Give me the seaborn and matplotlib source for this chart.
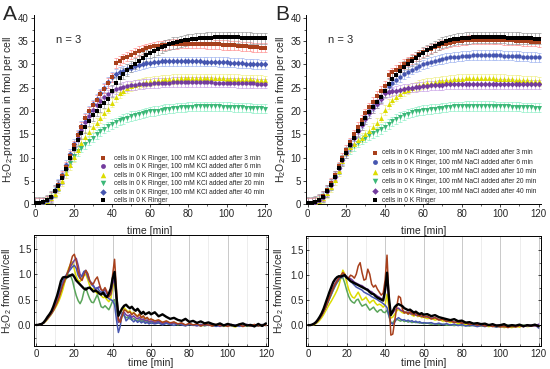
import numpy as np
import matplotlib
matplotlib.use('Agg')
import matplotlib.pyplot as plt
import seaborn as sns
from matplotlib.ticker import MultipleLocator, FormatStrFormatter

# sampling times (min)
t_cum = np.arange(0, 121, 2)
t_rate = np.concatenate([np.arange(0, 61), np.arange(62, 121, 2)])

# ---- panel A top: cumulative H2O2 (fmol/cell), KCl ----
a_ringer = [0.3, 0.3, 0.4, 0.8, 1.5, 2.8, 3.9, 5.5, 7.5, 9.8, 11.8, 13.7, 15.2, 16.5, 17.9, 19.1, 20.1, 21.0, 21.8, 22.6,
            24.3, 26.0, 27.1, 28.0, 28.8, 29.5, 30.2, 30.8, 31.4, 32.0, 32.5, 32.9, 33.3, 33.7, 34.0, 34.3, 34.6, 34.8, 35.0, 35.2,
            35.3, 35.4, 35.5, 35.6, 35.6, 35.7, 35.7, 35.8, 35.8, 35.8, 35.8, 35.8, 35.8, 35.8, 35.7, 35.7, 35.7, 35.6, 35.6, 35.6, 35.6]
a_kcl_3 = [0.3, 0.3, 0.4, 0.8, 1.6, 2.9, 4.2, 6.0, 8.0, 10.3, 12.6, 14.8, 16.6, 18.4, 19.9, 21.2, 22.4, 23.6, 24.8, 26.0,
           27.2, 30.3, 30.8, 31.3, 31.7, 32.1, 32.5, 32.9, 33.2, 33.5, 33.7, 33.9, 34.0, 34.1, 34.2, 34.3, 34.4, 34.4, 34.5, 34.5,
           34.5, 34.5, 34.5, 34.5, 34.5, 34.4, 34.4, 34.3, 34.3, 34.2, 34.2, 34.1, 34.1, 34.0, 33.9, 33.9, 33.8, 33.7, 33.7, 33.6, 33.6]
a_kcl_6 = [0.3, 0.3, 0.4, 0.8, 1.5, 2.8, 4.0, 5.8, 7.8, 10.0, 12.3, 14.3, 16.0, 17.6, 19.0, 20.2, 21.2, 22.1, 22.9, 23.6,
           24.3, 24.7, 25.0, 25.2, 25.4, 25.5, 25.6, 25.7, 25.8, 25.9, 25.9, 26.0, 26.0, 26.1, 26.1, 26.1, 26.2, 26.2, 26.2, 26.2,
           26.2, 26.2, 26.2, 26.2, 26.2, 26.2, 26.2, 26.1, 26.1, 26.1, 26.1, 26.1, 26.1, 26.0, 26.0, 26.0, 26.0, 26.0, 25.9, 25.9, 25.9]
a_kcl_10 = [0.3, 0.3, 0.4, 0.6, 1.2, 2.2, 3.4, 4.9, 6.6, 8.4, 10.1, 11.7, 13.1, 14.4, 15.5, 16.5, 17.5, 18.5, 19.5, 20.5,
            21.8, 23.0, 23.8, 24.4, 24.9, 25.3, 25.6, 25.9, 26.1, 26.3, 26.4, 26.5, 26.6, 26.7, 26.8, 26.8, 26.9, 26.9, 27.0, 27.0,
            27.0, 27.0, 27.0, 27.0, 27.0, 27.0, 27.0, 27.0, 27.0, 27.0, 26.9, 26.9, 26.9, 26.9, 26.8, 26.8, 26.8, 26.7, 26.7, 26.7, 26.6]
a_kcl_20 = [0.3, 0.3, 0.4, 0.7, 1.4, 2.6, 3.9, 5.5, 7.2, 8.9, 10.3, 11.3, 12.1, 12.9, 13.6, 14.3, 15.0, 15.6, 16.2, 16.7,
            17.2, 17.6, 18.0, 18.3, 18.6, 18.9, 19.1, 19.3, 19.5, 19.7, 19.9, 20.0, 20.1, 20.3, 20.4, 20.5, 20.6, 20.7, 20.8, 20.8,
            20.9, 20.9, 21.0, 21.0, 21.0, 21.0, 21.0, 21.0, 21.0, 20.9, 20.9, 20.9, 20.8, 20.8, 20.8, 20.7, 20.7, 20.6, 20.6, 20.6, 20.5]
a_kcl_40 = [0.3, 0.3, 0.4, 0.8, 1.6, 3.0, 4.4, 6.3, 8.5, 10.8, 13.0, 15.0, 16.8, 18.5, 20.0, 21.4, 22.6, 23.8, 25.0, 26.3,
            27.4, 28.0, 28.4, 28.7, 29.0, 29.3, 29.6, 29.9, 30.1, 30.3, 30.4, 30.5, 30.6, 30.7, 30.7, 30.7, 30.7, 30.7, 30.7, 30.7,
            30.7, 30.7, 30.7, 30.7, 30.6, 30.6, 30.6, 30.6, 30.5, 30.5, 30.5, 30.4, 30.4, 30.3, 30.3, 30.2, 30.2, 30.1, 30.1, 30.0, 30.0]

# ---- panel B top: cumulative H2O2 (fmol/cell), NaCl ----
b_ringer = [0.3, 0.3, 0.5, 0.9, 1.6, 2.8, 4.2, 5.9, 7.7, 9.4, 11.0, 12.6, 14.2, 15.7, 17.2, 18.5, 19.7, 20.8, 21.9, 23.0,
            24.3, 25.8, 26.9, 27.8, 28.7, 29.5, 30.2, 30.8, 31.4, 32.0, 32.5, 33.0, 33.5, 33.9, 34.3, 34.7, 35.0, 35.2, 35.4, 35.5,
            35.6, 35.7, 35.7, 35.8, 35.8, 35.8, 35.8, 35.8, 35.8, 35.8, 35.8, 35.8, 35.7, 35.7, 35.7, 35.7, 35.6, 35.6, 35.6, 35.5, 35.5]
b_nacl_3 = [0.3, 0.3, 0.5, 0.9, 1.7, 3.0, 4.5, 6.2, 8.1, 9.9, 11.6, 13.3, 15.0, 16.6, 18.1, 19.5, 20.8, 22.0, 23.2, 24.3,
            25.4, 27.8, 28.3, 28.9, 29.5, 30.1, 30.7, 31.2, 31.7, 32.2, 32.6, 33.0, 33.4, 33.7, 34.0, 34.3, 34.5, 34.7, 34.9, 35.0,
            35.1, 35.2, 35.3, 35.3, 35.3, 35.3, 35.3, 35.3, 35.3, 35.3, 35.3, 35.2, 35.2, 35.2, 35.1, 35.1, 35.0, 35.0, 34.9, 34.9, 34.8]
b_nacl_6 = [0.3, 0.3, 0.5, 0.9, 1.6, 2.9, 4.3, 6.0, 7.8, 9.6, 11.3, 12.9, 14.5, 16.0, 17.4, 18.7, 19.9, 21.0, 22.0, 23.0,
            24.0, 25.3, 26.0, 26.7, 27.3, 27.9, 28.4, 28.9, 29.3, 29.7, 30.0, 30.3, 30.6, 30.8, 31.0, 31.2, 31.4, 31.5, 31.6, 31.7,
            31.8, 31.9, 31.9, 32.0, 32.0, 32.0, 32.0, 32.0, 32.0, 32.0, 32.0, 31.9, 31.9, 31.9, 31.8, 31.8, 31.7, 31.7, 31.6, 31.6, 31.5]
b_nacl_10 = [0.3, 0.3, 0.4, 0.6, 1.2, 2.3, 3.6, 5.2, 7.0, 9.2, 11.0, 12.2, 13.0, 13.7, 14.3, 15.0, 15.7, 16.5, 17.4, 18.6,
             20.2, 21.5, 22.4, 23.1, 23.7, 24.2, 24.6, 25.0, 25.3, 25.6, 25.8, 26.0, 26.1, 26.3, 26.4, 26.5, 26.6, 26.7, 26.8, 26.9,
             26.9, 27.0, 27.0, 27.0, 27.0, 27.0, 27.0, 27.0, 27.0, 26.9, 26.9, 26.9, 26.8, 26.8, 26.7, 26.7, 26.6, 26.6, 26.5, 26.5, 26.4]
b_nacl_20 = [0.3, 0.3, 0.4, 0.7, 1.4, 2.6, 4.0, 5.7, 7.5, 9.3, 10.8, 11.8, 12.5, 13.2, 13.8, 14.3, 14.8, 15.2, 15.6, 16.1,
             16.6, 17.2, 17.8, 18.3, 18.7, 19.1, 19.4, 19.7, 19.9, 20.1, 20.2, 20.3, 20.4, 20.5, 20.6, 20.7, 20.8, 20.9, 21.0, 21.0,
             21.0, 21.1, 21.1, 21.1, 21.1, 21.1, 21.1, 21.1, 21.1, 21.0, 21.0, 21.0, 21.0, 20.9, 20.9, 20.9, 20.8, 20.8, 20.8, 20.7, 20.7]
b_nacl_40 = [0.3, 0.3, 0.5, 0.9, 1.6, 2.8, 4.2, 5.9, 7.7, 9.4, 11.0, 12.6, 14.1, 15.6, 17.0, 18.3, 19.5, 20.6, 21.6, 22.6,
             23.8, 24.0, 24.2, 24.4, 24.6, 24.8, 24.9, 25.0, 25.1, 25.2, 25.3, 25.4, 25.5, 25.5, 25.6, 25.6, 25.7, 25.7, 25.8, 25.8,
             25.8, 25.8, 25.8, 25.8, 25.8, 25.8, 25.8, 25.8, 25.8, 25.8, 25.8, 25.8, 25.8, 25.8, 25.7, 25.7, 25.7, 25.7, 25.7, 25.7, 25.7]

# ---- panel A bottom: rate (fmol/min/cell) ----
ra_ringer = [0.0, 0.0, 0.01, 0.02, 0.05, 0.10, 0.16, 0.21, 0.27, 0.36, 0.47, 0.58, 0.72, 0.87, 0.94, 0.95, 0.94, 0.96, 0.98, 1.0,
             0.95, 0.88, 0.84, 0.80, 0.76, 0.72, 0.70, 0.73, 0.74, 0.70, 0.66, 0.68, 0.66, 0.62, 0.60, 0.64, 0.58, 0.55, 0.62, 0.72,
             0.92, 1.05, 0.55, 0.18, 0.26, 0.33, 0.38, 0.40, 0.36, 0.33, 0.36, 0.31, 0.28, 0.32, 0.27, 0.22, 0.26, 0.21, 0.23, 0.25, 0.21,
             0.25, 0.17, 0.21, 0.16, 0.12, 0.14, 0.10, 0.08, 0.12, 0.06, 0.08, 0.04, 0.07, 0.03, 0.05, 0.02, 0.0, 0.03, -0.01, 0.02,
             0.0, -0.02, 0.01, 0.03, -0.01, 0.0, -0.03, 0.02, -0.02, 0.03]
ra_kcl_3 = [0.0, 0.0, 0.01, 0.02, 0.04, 0.08, 0.13, 0.18, 0.23, 0.29, 0.36, 0.44, 0.54, 0.66, 0.78, 0.88, 0.98, 1.08, 1.22, 1.36,
            1.40, 1.26, 1.06, 0.93, 0.88, 0.98, 1.08, 1.02, 0.88, 0.80, 0.82, 0.90, 0.95, 0.82, 0.70, 0.68, 0.74, 0.66, 0.55, 0.62,
            1.00, 1.30, 0.70, 0.10, 0.05, 0.18, 0.30, 0.28, 0.24, 0.26, 0.20, 0.24, 0.20, 0.16, 0.22, 0.14, 0.18, 0.12, 0.15, 0.10, 0.12,
            0.08, 0.10, 0.05, 0.08, 0.04, 0.06, 0.02, 0.04, 0.0, 0.03, 0.0, 0.02, -0.02, 0.01, 0.0, -0.02, 0.01, -0.01, 0.0, -0.03,
            0.0, -0.02, 0.01, -0.03, 0.0, -0.02, 0.01, -0.02, 0.0, -0.01]
ra_kcl_6 = [0.0, 0.0, 0.01, 0.02, 0.04, 0.08, 0.12, 0.17, 0.22, 0.28, 0.36, 0.46, 0.58, 0.70, 0.82, 0.92, 1.00, 1.08, 1.15, 1.22,
            1.28, 1.32, 1.18, 1.00, 0.96, 1.04, 1.06, 0.95, 0.86, 0.84, 0.78, 0.70, 0.72, 0.76, 0.70, 0.66, 0.70, 0.62, 0.58, 0.60,
            0.80, 0.95, 0.45, 0.05, 0.12, 0.22, 0.25, 0.20, 0.18, 0.20, 0.15, 0.18, 0.14, 0.12, 0.15, 0.10, 0.12, 0.08, 0.10, 0.06, 0.08,
            0.05, 0.07, 0.03, 0.05, 0.02, 0.04, 0.01, 0.03, -0.01, 0.02, 0.0, -0.02, 0.01, -0.01, 0.01, -0.02, 0.0, -0.03, 0.0, -0.02,
            0.01, -0.02, 0.0, -0.03, 0.01, -0.02, -0.01, 0.01, -0.02, 0.0]
ra_kcl_10 = [0.0, 0.0, 0.01, 0.02, 0.04, 0.07, 0.11, 0.16, 0.21, 0.27, 0.33, 0.40, 0.48, 0.58, 0.70, 0.85, 1.00, 1.12, 1.20, 1.25,
             1.10, 0.96, 0.88, 0.86, 0.92, 0.98, 1.00, 0.90, 0.78, 0.70, 0.72, 0.66, 0.62, 0.66, 0.58, 0.54, 0.55, 0.50, 0.46, 0.52,
             0.72, 0.88, 0.50, 0.20, 0.24, 0.30, 0.34, 0.30, 0.26, 0.28, 0.22, 0.25, 0.20, 0.18, 0.21, 0.15, 0.17, 0.12, 0.14, 0.10, 0.11,
             0.08, 0.09, 0.05, 0.07, 0.03, 0.05, 0.02, 0.03, -0.01, 0.02, 0.0, 0.01, -0.02, 0.0, 0.01, -0.02, 0.0, -0.01, -0.03, 0.0,
             -0.02, -0.04, -0.01, -0.03, 0.0, -0.02, -0.01, 0.0, -0.02, 0.01]
ra_kcl_20 = [0.0, 0.0, 0.01, 0.02, 0.04, 0.08, 0.12, 0.17, 0.22, 0.29, 0.37, 0.46, 0.56, 0.66, 0.76, 0.86, 0.94, 1.00, 0.98, 0.88,
             0.72, 0.58, 0.48, 0.42, 0.50, 0.66, 0.74, 0.62, 0.52, 0.45, 0.44, 0.52, 0.60, 0.48, 0.36, 0.34, 0.38, 0.34, 0.30, 0.38,
             0.48, 0.50, 0.30, 0.06, 0.10, 0.20, 0.18, 0.14, 0.16, 0.12, 0.10, 0.13, 0.09, 0.08, 0.11, 0.07, 0.09, 0.05, 0.07, 0.04, 0.06,
             0.04, 0.05, 0.02, 0.04, 0.01, 0.03, 0.0, 0.02, -0.01, 0.01, 0.0, -0.01, 0.01, -0.02, 0.0, -0.01, -0.02, 0.0, -0.02, -0.01,
             0.0, -0.02, -0.01, 0.0, -0.02, -0.01, 0.0, -0.02, 0.0, -0.01]
ra_kcl_40 = [0.0, 0.0, 0.01, 0.02, 0.05, 0.09, 0.14, 0.19, 0.25, 0.32, 0.41, 0.52, 0.64, 0.76, 0.86, 0.94, 1.00, 1.05, 1.10, 1.15,
             1.18, 1.12, 0.98, 0.92, 0.98, 1.06, 1.08, 1.00, 0.88, 0.80, 0.76, 0.72, 0.74, 0.68, 0.64, 0.68, 0.62, 0.56, 0.52, 0.50,
             0.48, 0.40, 0.10, -0.15, -0.02, 0.25, 0.20, 0.08, 0.12, 0.18, 0.10, 0.06, 0.10, 0.05, 0.08, 0.04, 0.07, 0.03, 0.05, 0.02, 0.04,
             0.02, 0.04, 0.0, 0.03, 0.01, -0.01, 0.02, 0.0, -0.02, 0.01, -0.01, 0.0, -0.02, 0.01, -0.01, 0.0, -0.03, 0.0, -0.02, 0.01,
             -0.02, 0.0, -0.03, -0.01, 0.01, -0.02, 0.0, -0.02, 0.01, -0.01]

# ---- panel B bottom: rate (fmol/min/cell) ----
rb_ringer = [0.0, 0.0, 0.01, 0.03, 0.06, 0.11, 0.17, 0.24, 0.33, 0.44, 0.55, 0.66, 0.76, 0.86, 0.92, 0.96, 0.98, 0.97, 0.99, 1.0,
             0.95, 0.92, 0.88, 0.86, 0.84, 0.82, 0.80, 0.78, 0.76, 0.74, 0.72, 0.70, 0.66, 0.63, 0.62, 0.58, 0.55, 0.53, 0.51, 0.49,
             0.70, 1.05, 0.55, 0.20, 0.28, 0.36, 0.40, 0.42, 0.40, 0.38, 0.34, 0.32, 0.30, 0.31, 0.28, 0.25, 0.27, 0.24, 0.22, 0.24, 0.21,
             0.22, 0.18, 0.20, 0.16, 0.14, 0.12, 0.10, 0.12, 0.08, 0.09, 0.05, 0.06, 0.03, 0.04, 0.02, 0.03, 0.0, 0.02, -0.01, 0.0,
             0.02, -0.02, 0.0, -0.01, 0.01, -0.02, 0.0, -0.01, 0.01, -0.02]
rb_nacl_3 = [0.0, 0.0, 0.01, 0.02, 0.05, 0.09, 0.14, 0.20, 0.27, 0.35, 0.45, 0.55, 0.65, 0.74, 0.82, 0.88, 0.94, 1.00, 1.05, 1.02,
             0.96, 0.94, 1.00, 0.98, 0.94, 1.02, 1.18, 1.25, 1.05, 0.90, 0.92, 1.12, 1.02, 0.82, 0.76, 0.80, 0.72, 0.66, 0.60, 0.64,
             0.90, 1.40, 0.55, -0.20, -0.18, 0.08, 0.35, 0.58, 0.55, 0.32, 0.24, 0.26, 0.22, 0.27, 0.24, 0.20, 0.26, 0.20, 0.18, 0.22, 0.16,
             0.18, 0.12, 0.15, 0.10, 0.12, 0.07, 0.09, 0.05, 0.07, 0.04, 0.05, 0.01, 0.03, 0.0, 0.02, -0.02, 0.0, -0.03, -0.01, -0.04,
             -0.02, -0.05, -0.02, -0.04, -0.01, -0.03, 0.0, -0.02, 0.0, -0.03]
rb_nacl_6 = [0.0, 0.0, 0.01, 0.02, 0.05, 0.09, 0.14, 0.20, 0.27, 0.35, 0.44, 0.53, 0.62, 0.71, 0.79, 0.86, 0.91, 0.95, 0.97, 0.98,
             0.95, 0.92, 0.88, 0.84, 0.80, 0.76, 0.74, 0.72, 0.70, 0.66, 0.64, 0.62, 0.60, 0.57, 0.55, 0.53, 0.51, 0.48, 0.46, 0.43,
             0.40, 0.35, 0.20, 0.05, 0.02, 0.06, 0.12, 0.15, 0.12, 0.10, 0.11, 0.08, 0.10, 0.07, 0.09, 0.06, 0.08, 0.05, 0.07, 0.04, 0.05,
             0.04, 0.05, 0.02, 0.04, 0.01, 0.03, 0.0, 0.02, -0.01, 0.01, -0.02, 0.0, -0.01, -0.03, -0.01, -0.03, 0.0, -0.02, -0.04, -0.02,
             -0.03, -0.01, -0.03, -0.02, 0.0, -0.03, -0.01, -0.02, 0.01, -0.06]
rb_nacl_10 = [0.0, 0.0, 0.0, 0.01, 0.03, 0.06, 0.10, 0.15, 0.21, 0.28, 0.35, 0.42, 0.48, 0.55, 0.62, 0.70, 0.80, 0.95, 1.10, 1.02,
              0.86, 0.72, 0.62, 0.56, 0.54, 0.60, 0.66, 0.58, 0.50, 0.52, 0.56, 0.50, 0.44, 0.48, 0.50, 0.44, 0.40, 0.42, 0.40, 0.36,
              0.40, 0.62, 0.34, 0.14, 0.16, 0.22, 0.28, 0.32, 0.28, 0.25, 0.24, 0.26, 0.22, 0.24, 0.20, 0.18, 0.21, 0.17, 0.19, 0.15, 0.16,
              0.13, 0.14, 0.10, 0.12, 0.08, 0.09, 0.05, 0.07, 0.03, 0.04, 0.01, 0.02, -0.01, 0.0, -0.02, -0.01, -0.03, -0.01, -0.04, -0.02,
              -0.05, -0.03, -0.05, -0.02, -0.04, -0.01, -0.03, -0.02, 0.0, -0.02]
rb_nacl_20 = [0.0, 0.0, 0.01, 0.02, 0.04, 0.08, 0.13, 0.19, 0.26, 0.34, 0.43, 0.52, 0.61, 0.70, 0.78, 0.85, 0.90, 0.94, 0.95, 0.84,
              0.70, 0.58, 0.50, 0.46, 0.44, 0.50, 0.52, 0.44, 0.38, 0.40, 0.42, 0.36, 0.30, 0.33, 0.36, 0.30, 0.26, 0.30, 0.31, 0.26,
              0.25, 0.30, 0.18, 0.04, 0.05, 0.10, 0.12, 0.10, 0.08, 0.10, 0.07, 0.09, 0.06, 0.08, 0.05, 0.07, 0.05, 0.06, 0.04, 0.05, 0.03,
              0.04, 0.02, 0.03, 0.01, 0.02, 0.0, 0.01, -0.01, 0.01, -0.01, 0.0, -0.02, 0.0, -0.01, -0.02, 0.0, -0.01, -0.02, 0.0, -0.01,
              -0.02, 0.0, -0.01, -0.03, -0.01, 0.0, -0.02, -0.01, 0.0, -0.01]
rb_nacl_40 = [0.0, 0.0, 0.01, 0.02, 0.05, 0.09, 0.14, 0.20, 0.27, 0.36, 0.46, 0.56, 0.66, 0.76, 0.84, 0.90, 0.95, 0.97, 0.99, 1.0,
              0.97, 0.95, 0.93, 0.90, 0.86, 0.84, 0.82, 0.80, 0.79, 0.76, 0.73, 0.72, 0.68, 0.67, 0.63, 0.61, 0.58, 0.56, 0.53, 0.52,
              0.68, 0.95, 0.50, 0.22, 0.24, 0.30, 0.33, 0.34, 0.30, 0.28, 0.27, 0.25, 0.26, 0.23, 0.22, 0.24, 0.20, 0.19, 0.21, 0.17, 0.18,
              0.16, 0.14, 0.15, 0.11, 0.12, 0.08, 0.09, 0.06, 0.07, 0.04, 0.05, 0.02, 0.03, 0.0, 0.01, -0.01, 0.01, -0.02, 0.0, -0.01,
              -0.03, -0.01, 0.0, -0.02, 0.0, -0.03, -0.01, 0.0, -0.02, 0.02]

minutes = [3, 6, 10, 20, 40]
err_ringer = 1.2
err_salt = 1.0

# styles
brown, yellow, green, black = '#a8401c', '#dcdc00', '#3cb878', '#000000'
purple, blue = '#733c9e', '#4656b0'
light = {brown: '#ff8f8f', yellow: '#eeee88', green: '#8ff0c8', black: '#9a9a9a',
         purple: '#c9a3e6', blue: '#9fb4f0'}
line_green = '#5aa55a'

panels = [
    dict(salt='KCl', letter='A', cum=[a_kcl_3, a_kcl_6, a_kcl_10, a_kcl_20, a_kcl_40, a_ringer],
         rate=[ra_kcl_3, ra_kcl_6, ra_kcl_10, ra_kcl_20, ra_kcl_40, ra_ringer],
         colors=[brown, purple, yellow, green, blue, black],
         leg=dict(x=0.271, spacing=0.22, hl=2.0, pad=0.6)),
    dict(salt='NaCl', letter='B', cum=[b_nacl_3, b_nacl_6, b_nacl_10, b_nacl_20, b_nacl_40, b_ringer],
         rate=[rb_nacl_3, rb_nacl_6, rb_nacl_10, rb_nacl_20, rb_nacl_40, rb_ringer],
         colors=[brown, blue, yellow, green, purple, black],
         leg=dict(x=0.279, spacing=0.38, hl=1.2, pad=0.45)),
]
markers = ['s', 'o', '^', 'v', 'D', 's']
msizes = [10, 10, 13, 13, 9, 10]

sns.set_theme(style='ticks')
plt.rcParams['font.family'] = ['Liberation Sans', 'DejaVu Sans']
plt.rcParams['mathtext.fontset'] = 'custom'
plt.rcParams['mathtext.rm'] = 'Liberation Sans'
plt.rcParams['mathtext.it'] = 'Liberation Sans'

fig = plt.figure(figsize=(5.5, 3.69), dpi=100)
top_pos = [[0.061, 0.447, 0.424, 0.512], [0.556, 0.447, 0.427, 0.512]]
bot_pos = [[0.062, 0.062, 0.425, 0.301], [0.557, 0.062, 0.426, 0.298]]

for i, p in enumerate(panels):
    ax = fig.add_axes(top_pos[i])
    labels = [f'cells in 0 K Ringer, 100 mM {p["salt"]} added after {m} min' for m in minutes] + ['cells in 0 K Ringer']
    order = [3, 2, 1, 4, 0, 5]
    for k in order:
        y = np.array(p['cum'][k])
        c = p['colors'][k]
        e = err_ringer if k == 5 else err_salt
        ax.errorbar(t_cum, y, yerr=e, fmt='none', ecolor=light[c], elinewidth=0.5,
                    capsize=1.3, capthick=0.5, zorder=1)
    for k in order:
        c = p['colors'][k]
        sns.scatterplot(x=t_cum, y=p['cum'][k], ax=ax, marker=markers[k], s=msizes[k],
                        color=c, edgecolor=c, linewidth=0, label=labels[k], zorder=3)
    h, l = ax.get_legend_handles_labels()
    idx = [l.index(lab) for lab in labels]
    lg = p['leg']
    ax.legend([h[j] for j in idx], [l[j] for j in idx], loc='lower left',
              bbox_to_anchor=(lg['x'], 0.0), frameon=False, fontsize=4.8,
              handletextpad=lg['pad'], labelspacing=lg['spacing'], borderpad=0,
              borderaxespad=0, handlelength=lg['hl'], markerscale=1.1)
    ax.set_xlim(-1, 121)
    ax.set_ylim(0, 40.6)
    ax.xaxis.set_major_locator(MultipleLocator(20))
    ax.xaxis.set_minor_locator(MultipleLocator(10))
    ax.yaxis.set_major_locator(MultipleLocator(5))
    ax.yaxis.set_minor_locator(MultipleLocator(2.5))
    ax.tick_params(which='major', direction='out', length=2.2, width=0.6, labelsize=7, pad=1.2)
    ax.tick_params(which='minor', direction='out', length=1.2, width=0.5)
    sns.despine(ax=ax)
    for s in ['left', 'bottom']:
        ax.spines[s].set_linewidth(0.7)
        ax.spines[s].set_color('black')
    ax.set_xlabel('time [min]', fontsize=7.5, labelpad=5)
    ax.set_ylabel(r'H$_2$O$_2$-production in fmol per cell', fontsize=7.5, labelpad=2)
    ax.text(10.5, 35.3, 'n = 3', fontsize=8, va='center')
    fig.text(0.006 + 0.494 * i, 0.946, p['letter'], fontsize=15, va='baseline')

    # rate panel
    bx = fig.add_axes(bot_pos[i])
    line_colors = [c if c != green else line_green for c in p['colors']]
    for k in order:
        sns.lineplot(x=t_rate, y=p['rate'][k], ax=bx, color=line_colors[k],
                     linewidth=1.7 if k == 5 else 1.1, legend=False, zorder=3 + (k == 5))
    bx.axhline(0, color='black', linewidth=0.7, zorder=2)
    bx.set_xlim(-1, 121)
    bx.set_ylim(-0.42, 1.78)
    bx.xaxis.set_major_locator(MultipleLocator(20))
    bx.xaxis.set_minor_locator(MultipleLocator(10))
    bx.yaxis.set_major_locator(MultipleLocator(0.5))
    bx.yaxis.set_minor_locator(MultipleLocator(0.25))
    bx.yaxis.set_major_formatter(FormatStrFormatter('%.1f'))
    bx.grid(axis='x', which='major', color='#c0c0c0', linewidth=0.6)
    bx.grid(axis='x', which='minor', color='#e6e6e6', linewidth=0.5)
    bx.tick_params(which='major', direction='in', length=2.5, width=0.6, labelsize=7, pad=2,
                   right=True)
    bx.tick_params(which='minor', direction='in', length=1.5, width=0.5, right=True)
    for s in bx.spines.values():
        s.set_linewidth(0.7)
        s.set_color('black')
    bx.set_xlabel('time [min]', fontsize=7.5, labelpad=-1)
    bx.set_ylabel(r'H$_2$O$_2$ fmol/min/cell', fontsize=7.5, labelpad=3)

fig.savefig('out.png', dpi=100)
